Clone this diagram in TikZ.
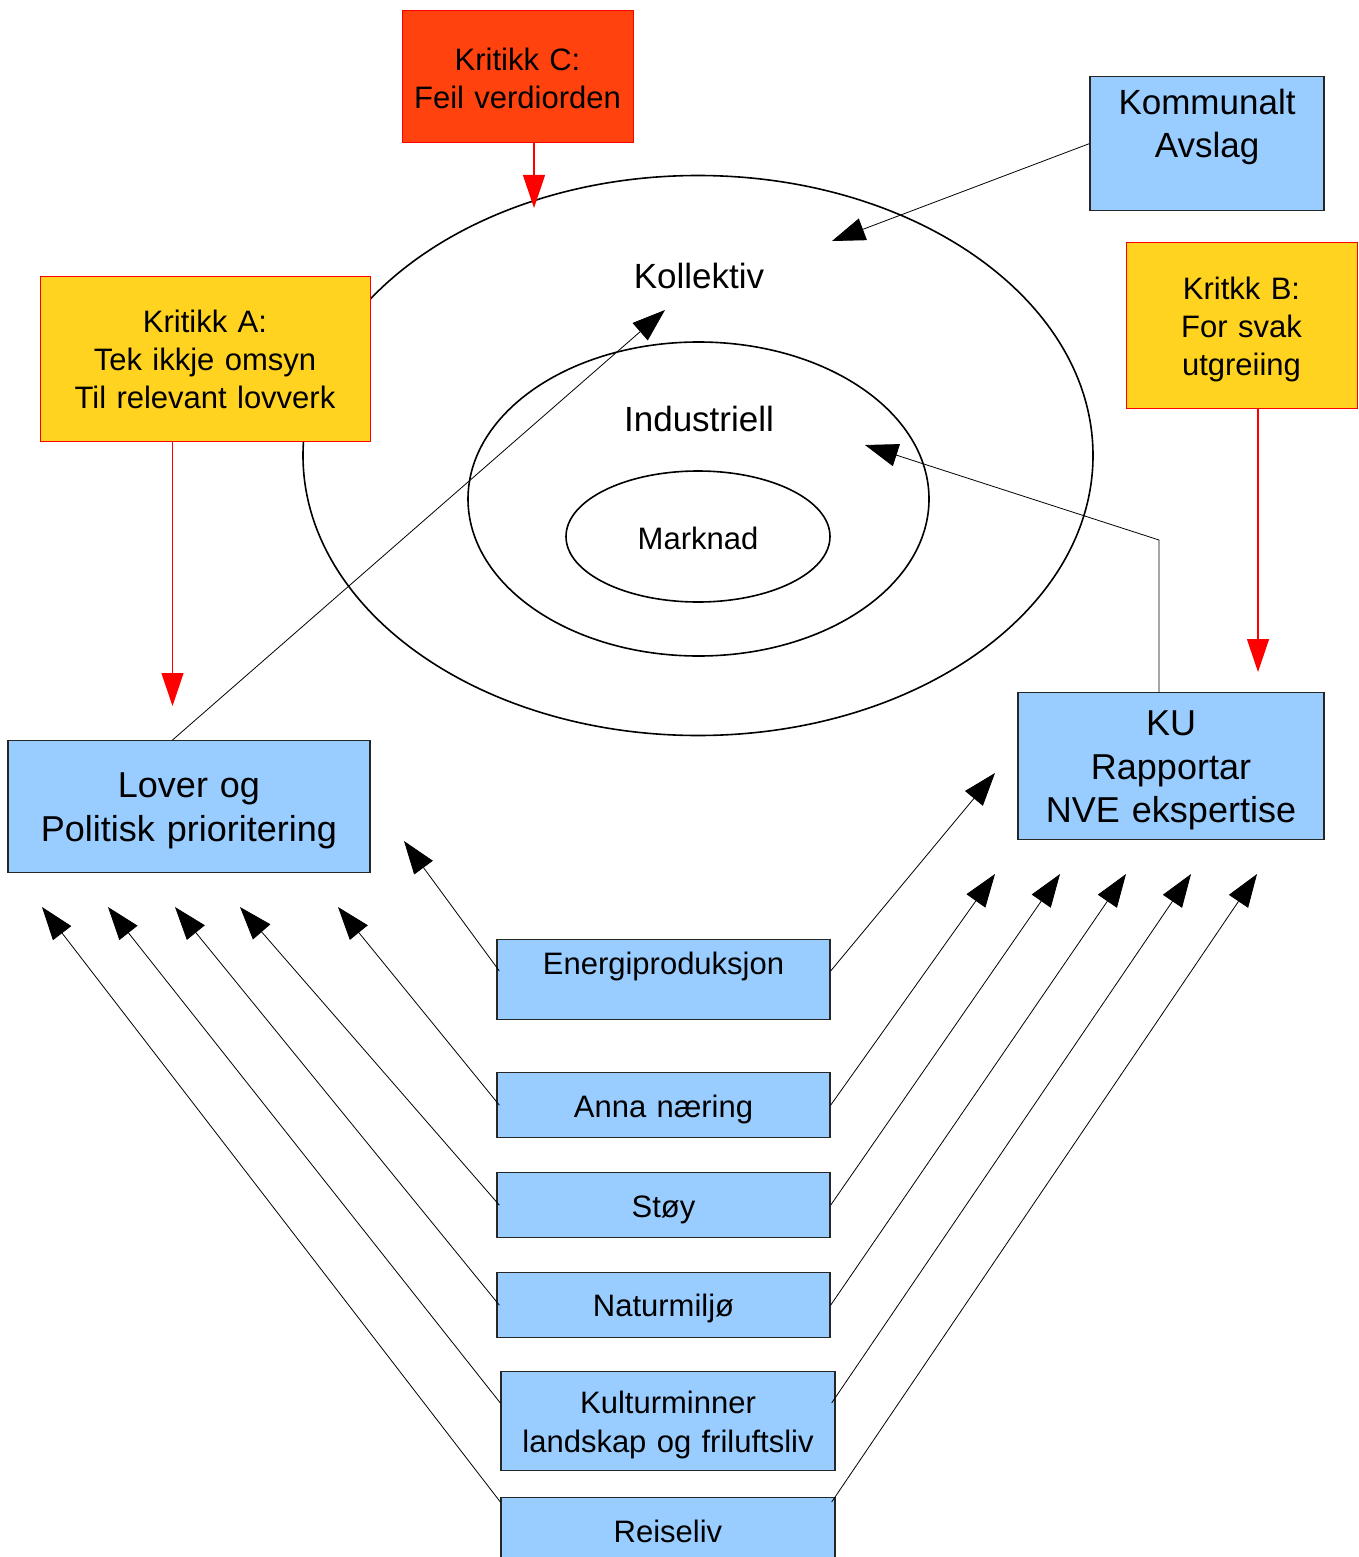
\documentclass[tikz,border=0pt]{standalone}
\usepackage{fontspec}
\setmainfont{Liberation Sans}
\usetikzlibrary{arrows.meta}
\definecolor{boxblue}{HTML}{99CCFF}
\definecolor{boxyellow}{HTML}{FFD320}
\definecolor{boxorange}{HTML}{FF420E}
\begin{document}
\begin{tikzpicture}[x=1pt,y=-1pt,
  bx/.style={inner xsep=0pt, inner ysep=0pt, align=center, anchor=north, line width=1.3pt},
  bluebox/.style={bx, draw=black!85, fill=boxblue},
  critbox/.style={bx, draw=red, fill=boxyellow, line width=1pt},
  fs/.style={font=\fontsize{31}{38}\selectfont},
  fl/.style={font=\fontsize{36}{43.5}\selectfont},
  conn/.style={draw=black, line width=0.8pt, -{Triangle[length=33pt,width=23pt]}},
  redconn/.style={draw=red, line width=1.2pt, -{Triangle[length=33pt,width=22pt]}, red},
  ring/.style={draw=black, line width=1.6pt}
]
\path[use as bounding box] (0,0) rectangle (1359,1557);
\clip (0,0) rectangle (1359,1557);

% ellipses
\draw[ring] (698,455.5) ellipse [x radius=395, y radius=280];
\draw[ring] (698.5,499) ellipse [x radius=230.5, y radius=157];
\draw[ring] (698,536.5) ellipse [x radius=132, y radius=65.5];
\node[font=\fontsize{35}{43}\selectfont] (kol) at (699,276) {Kollektiv};
\node[font=\fontsize{35}{43}\selectfont] (ind) at (699,419) {Industriell};
\node[font=\fontsize{31}{38}\selectfont] (mar) at (698,538) {Marknad};

% top boxes
\node[critbox, fill=boxorange, fs, text width=231pt, text height=60pt, text depth=72pt] (kc) at (517.5,10) {Kritikk C:\\Feil verdiorden};
\node[critbox, fs, text width=330pt, text height=56pt, text depth=109pt] (ka) at (205,276) {Kritikk A:\\Tek ikkje omsyn\\Til relevant lovverk};
\node[bluebox, font=\fontsize{35}{43}\selectfont, text width=234pt, text height=38pt, text depth=96pt] (kom) at (1207,76) {Kommunalt\\Avslag};
\node[critbox, fs, text width=231pt, text height=57pt, text depth=109pt] (kb) at (1241.5,242) {Kritkk B:\\For svak\\utgreiing};

% middle boxes
\node[bluebox, font=\fontsize{36}{44}\selectfont, text width=362pt, text height=57pt, text depth=75pt] (lov) at (189,740) {Lover og\\Politisk prioritering};
\node[bluebox, fl, text width=306pt, text height=43pt, text depth=104pt] (ku) at (1171,692) {KU\\Rapportar\\NVE ekspertise};

% bottom boxes
\node[bluebox, fs, text width=333pt, text height=35pt, text depth=45pt] (en) at (663.5,939) {Energiproduksjon};
\node[bluebox, fs, text width=333pt, text height=45pt, text depth=20pt] (an) at (663.5,1072) {Anna næring};
\node[bluebox, fs, text width=333pt, text height=45pt, text depth=20pt] (st) at (663.5,1172) {Støy};
\node[bluebox, fs, text width=333pt, text height=44pt, text depth=21pt] (na) at (663.5,1272) {Naturmiljø};
\node[bluebox, font=\fontsize{31}{39}\selectfont, text width=334pt, text height=42pt, text depth=57pt] (kul) at (668,1371) {Kulturminner\\landskap og friluftsliv};
\node[bluebox, fs, text width=334pt, text height=45pt, text depth=61pt] (re) at (668,1497) {Reiseliv};

% red critique arrows
\coordinate (cTip) at (534,208);
\coordinate (aTip) at (172.5,706);
\coordinate (bTip) at (1258,672);
\draw[redconn] (kc.south -| cTip) -- (cTip);
\draw[redconn] (ka.south -| aTip) -- (aTip);
\draw[redconn] (kb.south -| bTip) -- (bTip);

% black arrows
\coordinate (komTip) at (832,241);
\draw[conn] (kom.west) -- (komTip);
\coordinate (kolTip) at (665,310);
\draw[conn] (lov.north -| aTip) -- (kolTip);
\coordinate (kuBend) at (1159,540);
\coordinate (indTip) at (865,445);
\draw[conn] (ku.north -| kuBend) -- (kuBend) -- (indTip);

% to Lover
\coordinate (l1) at (404,841);
\coordinate (l2) at (338,907);
\coordinate (l3) at (240,907);
\coordinate (l4) at (175,907);
\coordinate (l5) at (108,907);
\coordinate (l6) at (42,907);
\draw[conn] ([yshift=-32pt,xshift=3pt]en.north west) -- (l1);
\draw[conn] ([xshift=3pt]an.west) -- (l2);
\draw[conn] ([xshift=3pt]st.west) -- (l3);
\draw[conn] ([xshift=3pt]na.west) -- (l4);
\draw[conn] ([yshift=-32pt]kul.north west) -- (l5);
\draw[conn] ([yshift=-5pt]re.north west) -- (l6);

% to KU
\coordinate (r1) at (995,773);
\coordinate (r2) at (995,874);
\coordinate (r3) at (1060,874);
\coordinate (r4) at (1126,874);
\coordinate (r5) at (1191,874);
\coordinate (r6) at (1257,874);
\draw[conn] ([yshift=-32pt]en.north east) -- (r1);
\draw[conn] (an.east) -- (r2);
\draw[conn] (st.east) -- (r3);
\draw[conn] (na.east) -- (r4);
\draw[conn] ([yshift=-32pt,xshift=-4pt]kul.north east) -- (r5);
\draw[conn] ([yshift=-5pt,xshift=-4pt]re.north east) -- (r6);
\end{tikzpicture}
\end{document}
